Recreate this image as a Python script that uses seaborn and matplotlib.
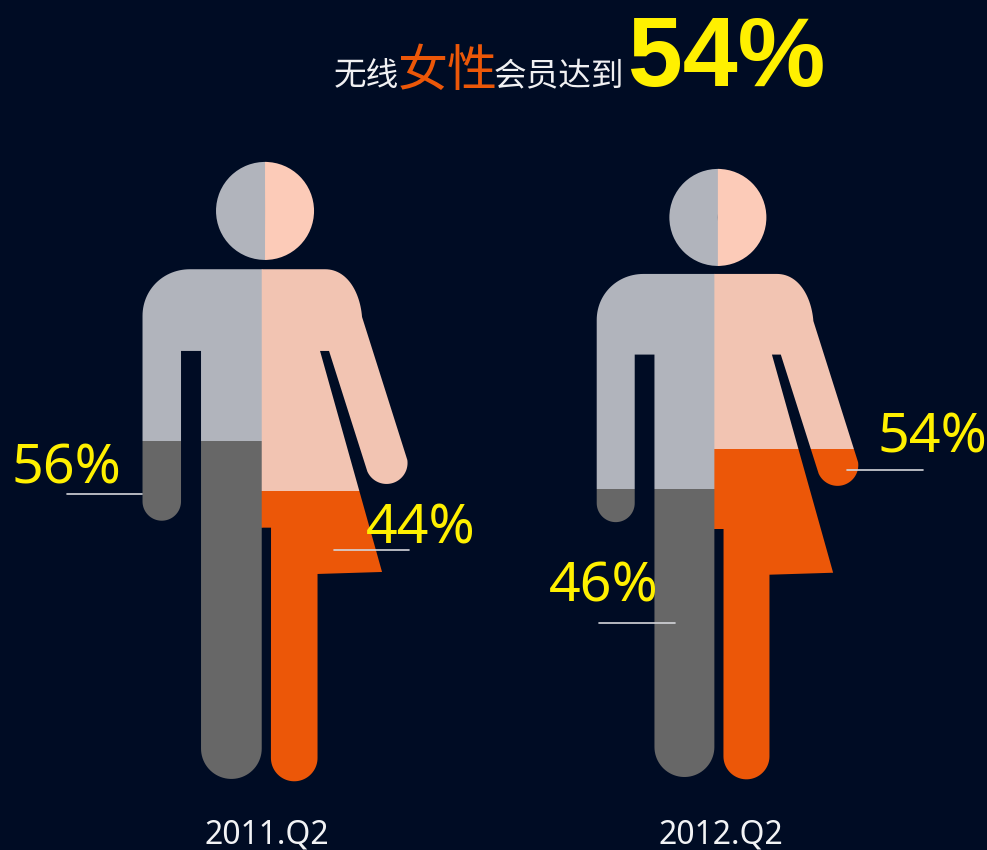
import numpy as np
import pandas as pd
import matplotlib
matplotlib.use('Agg')
import matplotlib.pyplot as plt
from matplotlib.patches import Polygon, Rectangle, Wedge
import seaborn as sns

# Chart values
periods = ['2011.Q2', '2012.Q2']
male_share = [56, 46]
female_share = [44, 54]
headline_share = 54
title_parts = ['无线', '女性', '会员达到']

BG = '#000c24'
MALE_TOP = '#b1b4bc'
MALE_BOTTOM = '#676767'
FEMALE_TOP = '#f2c4b2'
FEMALE_BOTTOM = '#ec5708'
FEMALE_HEAD = '#fccbb8'
YELLOW = '#fff000'

sns.set_theme(style='white', rc={'figure.facecolor': BG, 'axes.facecolor': BG})
plt.rcParams['font.family'] = ['Noto Sans', 'Noto Sans CJK SC', 'DejaVu Sans']


def arc(cx, cy, r, a0, a1):
    t = np.radians(np.linspace(a0, a1, 40))
    return np.column_stack([cx + r * np.cos(t), cy + r * np.sin(t)])


def bezier(p0, c1, c2, p1):
    t = np.linspace(0, 1, 30)[:, None]
    p0, c1, c2, p1 = map(np.array, (p0, c1, c2, p1))
    return (1 - t) ** 3 * p0 + 3 * (1 - t) ** 2 * t * c1 + 3 * (1 - t) * t ** 2 * c2 + t ** 3 * p1


# Half silhouettes, in the pixels of the left figure
male_outline = np.vstack([
    [[262.4, 269.3]],
    bezier((190, 269.3), (163, 269.3), (142.5, 290), (142.5, 316)),
    arc(161.75, 501.5, 19.25, 180, 0),
    [[181, 351], [201, 351]],
    arc(231.35, 748.6, 30.35, 180, 0),
    [[261.7, 527.7], [262.4, 527.7]],  # slips under the female half, no seam
])
female_outline = np.vstack([
    [[261.7, 269.3]],
    bezier((325, 269.3), (347, 269.3), (360, 292), (362, 317)),
    arc(386.5, 463, 21, -8, 156),
    [[329, 351], [320, 351], [382, 572], [317.5, 574]],
    arc(294.2, 758, 23.3, 0, 180),
    [[271, 527.7], [261.7, 527.7]],
])

# Where each figure sits and where its colour changes
figures = [
    {'x': 261.7, 'y': 269.3, 'scale': 1.0, 'head': (265, 211, 49), 'male_cut': 441, 'female_cut': 491},
    {'x': 714.3, 'y': 274.0, 'scale': 0.987, 'head': (717.8, 217.5, 48.5), 'male_cut': 489, 'female_cut': 449},
]

fig, ax = plt.subplots(figsize=(9.871, 8.501), dpi=100)
fig.subplots_adjust(0, 0, 1, 1)
ax.set_xlim(0, 987)
ax.set_ylim(850, 0)
ax.set_axis_off()


def place(outline, f):
    return np.column_stack([
        f['x'] + (outline[:, 0] - 261.7) * f['scale'],
        f['y'] + (outline[:, 1] - 269.3) * f['scale'],
    ])


def two_tone(outline, cut, top, bottom):
    shape = Polygon(outline, closed=True, transform=ax.transData)
    for y0, y1, color in [(0, cut, top), (cut, 850, bottom)]:
        band = Rectangle((0, y0), 987, y1 - y0, facecolor=color, edgecolor='none', zorder=2)
        ax.add_patch(band)
        band.set_clip_path(shape)


for f in figures:
    cx, cy, r = f['head']
    ax.add_patch(Wedge((cx, cy), r, 88, 272, facecolor=MALE_TOP, edgecolor='none', zorder=2))
    ax.add_patch(Wedge((cx, cy), r, 270, 90, facecolor=FEMALE_HEAD, edgecolor='none', zorder=2))
    two_tone(place(male_outline, f), f['male_cut'], MALE_TOP, MALE_BOTTOM)
    two_tone(place(female_outline, f), f['female_cut'], FEMALE_TOP, FEMALE_BOTTOM)

# Leader lines under the percent labels
leaders = pd.DataFrame({
    'x': [67, 142, 334, 409, 599, 675, 847, 923],
    'y': [494, 494, 550, 550, 623, 623, 470, 470],
    'label': ['m0', 'm0', 'f0', 'f0', 'm1', 'm1', 'f1', 'f1'],
})
sns.lineplot(data=leaders, x='x', y='y', units='label', estimator=None, color='#d4d5da',
             linewidth=1.2, ax=ax, zorder=3, legend=False)
ax.set_xlim(0, 987)
ax.set_ylim(850, 0)

label_pos = [((11, 483), (366, 543)), ((549, 601), (877, 452))]
for i, (m_pos, f_pos) in enumerate(label_pos):
    ax.text(*m_pos, f'{male_share[i]}%', color=YELLOW, fontsize=40, va='baseline', ha='left', zorder=4)
    ax.text(*f_pos, f'{female_share[i]}%', color=YELLOW, fontsize=40, va='baseline', ha='left', zorder=4)

for name, x in zip(periods, [266.5, 721]):
    ax.text(x, 843, name, color='#f2f3f5', fontsize=23, va='baseline', ha='center', zorder=4)

# Title, one piece per colour
ax.text(334, 85, title_parts[0], color='#f0f0f2', fontsize=23.5, va='baseline', ha='left')
ax.text(398, 86, title_parts[1], color=FEMALE_BOTTOM, fontsize=36, va='baseline', ha='left')
ax.text(494, 85, title_parts[2], color='#f0f0f2', fontsize=23.5, va='baseline', ha='left')
ax.text(628, 86, f'{headline_share}%', color=YELLOW, fontsize=71, fontweight='bold',
        family=['Liberation Sans', 'DejaVu Sans'], va='baseline', ha='left')

fig.savefig('out.png', dpi=100, facecolor=BG)
